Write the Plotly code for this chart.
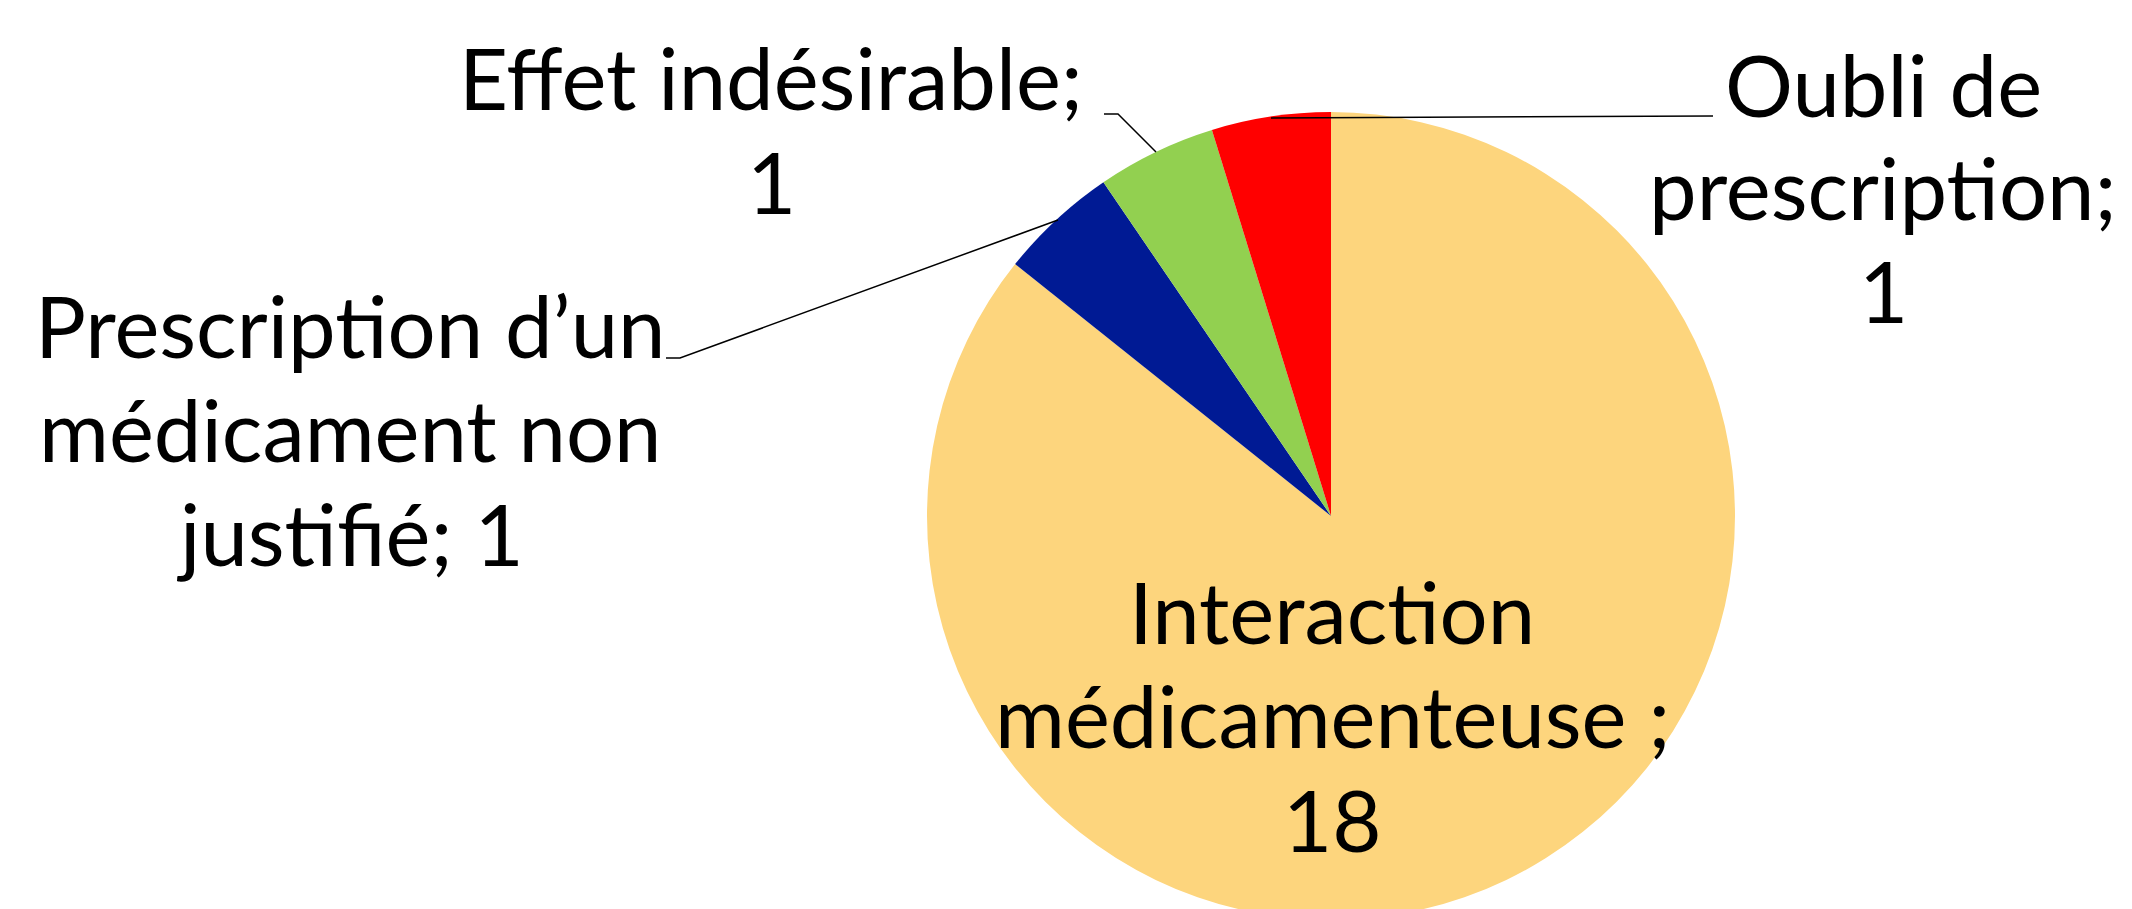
import plotly.graph_objects as go

# ---- data ----
categories = ["Interaction médicamenteuse", "Prescription d’un médicament non justifié",
              "Effet indésirable", "Oubli de prescription"]
values = [18, 1, 1, 1]
label_lines = [
    ["Interaction", "médicamenteuse ;", "{v}"],
    ["Prescription d’un", "médicament non", "justifié; {v}"],
    ["Effet indésirable;", "{v}"],
    ["Oubli de", "prescription;", "{v}"],
]
colors = ["#FDD57D", "#001A94", "#92D050", "#FF0000"]

W, H = 2132, 930
def px(x):
    return x / W
def py(y):
    return 1 - y / H

fig = go.Figure(go.Pie(
    labels=categories, values=values, sort=False, direction="clockwise",
    rotation=0, textinfo="none", marker=dict(colors=colors, line=dict(width=0)),
    domain=dict(x=[px(927), px(1735)], y=[py(920), py(112)]),
    showlegend=False, hoverinfo="label+value"))

FS = 85
font = dict(family="Lato, 'Open Sans', sans-serif", size=FS, color="#000000")
# (x centre, first baseline, line step) in pixels
label_pos = [(1332, 643, 104), (350, 357, 104), (771, 109, 104), (1883, 116, 103)]
for lines, v, (x, y0, step) in zip(label_lines, values, label_pos):
    for i, ln in enumerate(lines):
        base = y0 + i * step
        fig.add_annotation(text=ln.format(v=v), x=px(x), y=py(base - 0.38 * FS),
                           xref="paper", yref="paper", xanchor="center", yanchor="middle",
                           showarrow=False, font=font)

# leader lines
leaders = [
    [(1271, 118), (1713, 116)],
    [(1104, 114), (1118, 114), (1156, 152)],
    [(666, 358), (680, 358), (1058, 220)],
]
for pts in leaders:
    path = "M " + " L ".join(f"{px(a)},{py(b)}" for a, b in pts)
    fig.add_shape(type="path", path=path, xref="paper", yref="paper",
                  line=dict(color="#000000", width=1.5))

fig.update_layout(width=W, height=H, margin=dict(l=0, r=0, t=0, b=0),
                  paper_bgcolor="white", plot_bgcolor="white")

fig.write_html("out.html", config={"displayModeBar": False},
               post_script="document.body.style.margin='0';document.body.style.overflow='hidden';document.documentElement.style.overflow='hidden';")
